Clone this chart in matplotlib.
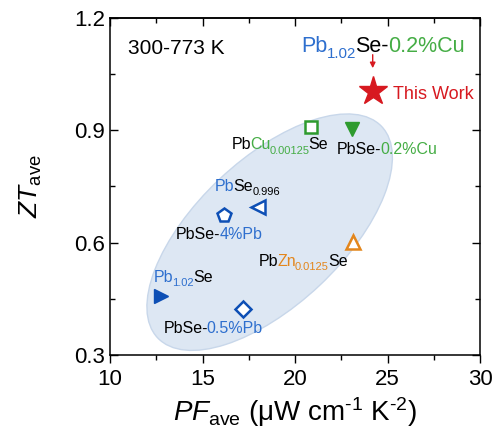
import matplotlib
matplotlib.use('Agg')
import matplotlib.pyplot as plt
import matplotlib.transforms as mtransforms
from matplotlib.patches import Ellipse
from matplotlib.ticker import MultipleLocator

plt.rcParams['font.family'] = ['Liberation Sans', 'DejaVu Sans']
plt.rcParams['mathtext.fontset'] = 'custom'
plt.rcParams['mathtext.rm'] = 'Liberation Sans'
plt.rcParams['mathtext.it'] = 'Liberation Sans:italic'
plt.rcParams['mathtext.bf'] = 'Liberation Sans:bold'

# data: average power factor and average ZT (300-773 K)
names = ['This Work', 'PbCu0.00125Se', 'PbSe-0.2%Cu', 'PbSe-4%Pb',
         'PbSe0.996', 'PbZn0.0125Se', 'Pb1.02Se', 'PbSe-0.5%Pb']
pf_ave = [24.2, 20.85, 23.1, 16.15, 18.0, 23.12, 12.77, 17.2]
zt_ave = [1.005, 0.91, 0.903, 0.675, 0.694, 0.601, 0.458, 0.422]

blue = '#0d4fb5'
tblue = '#2e6fce'
green = '#2e9b2e'
tgreen = '#45ad45'
orange = '#e3861c'
red = '#d71920'

# marker, size, face, edge
styles = [('*', 21, red, red),
          ('s', 8, 'white', green),
          ('v', 10, green, green),
          ('p', 10, 'white', blue),
          ('<', 9.5, 'white', blue),
          ('^', 9.5, 'white', orange),
          ('>', 10, blue, blue),
          ('D', 8, 'white', blue)]

fig = plt.figure(figsize=(4.97, 4.34), dpi=100)
ax = fig.add_axes([110/497, 1-355/434, 370/497, 337/434])
ax.set_xlim(10, 30)
ax.set_ylim(0.3, 1.2)

# shaded region
ell = Ellipse((0, 0), 3.08, 1.46, angle=43.3, facecolor='#dde7f3',
              edgecolor='#c8d7ea', lw=1,
              transform=fig.dpi_scale_trans + mtransforms.ScaledTranslation(18.63, 0.628, ax.transData),
              zorder=1)
ax.add_patch(ell)

for x, y, (m, ms, fc, ec) in zip(pf_ave, zt_ave, styles):
    ax.plot(x, y, marker=m, ms=ms, mfc=fc, mec=ec, mew=1.8 if fc == 'white' else 1, ls='none', zorder=3)

ax.xaxis.set_major_locator(MultipleLocator(5))
ax.xaxis.set_minor_locator(MultipleLocator(2.5))
ax.yaxis.set_major_locator(MultipleLocator(0.3))
ax.yaxis.set_minor_locator(MultipleLocator(0.15))
ax.tick_params(which='both', direction='in', labelsize=16, width=1)
ax.tick_params(axis='x', which='both', direction='out', pad=4)
ax.tick_params(which='major', length=6)
ax.tick_params(which='minor', length=3.5)
ax.xaxis.set_ticks_position('bottom')
ax.yaxis.set_ticks_position('both')
for s in ax.spines.values():
    s.set_linewidth(1.1)

# top ticks inward (bottom ones point out)
sec = ax.secondary_xaxis('top')
sec.xaxis.set_major_locator(MultipleLocator(5))
sec.xaxis.set_minor_locator(MultipleLocator(2.5))
sec.tick_params(which='both', direction='in', labeltop=False, width=1)
sec.tick_params(which='major', length=6)
sec.tick_params(which='minor', length=3.5)
sec.spines['top'].set_linewidth(1.1)

ax.set_xlabel(r'$\mathit{PF}_{\mathregular{ave}}$ (μW cm$^{\text{-1}}$ K$^{\text{-2}}$)', fontsize=20, labelpad=4)
ax.set_ylabel(r'$\mathit{ZT}_{\mathregular{ave}}$', fontsize=19, labelpad=22)

renderer = fig.canvas.get_renderer()


def rich(x, y, parts, size):
    # pieces of text with own colours, placed one after another
    off = 0.0
    for s, c, sub in parts:
        fs = size * 0.7 if sub else size
        dy = -size * 0.28 if sub else 0
        tr = ax.transData + mtransforms.ScaledTranslation(off / 72, dy / 72, fig.dpi_scale_trans)
        t = ax.text(x, y, s, color=c, fontsize=fs, transform=tr, ha='left', va='baseline', zorder=4)
        w = t.get_window_extent(renderer).width - 1
        off += w * 72 / fig.dpi


k = 'black'
rich(16.58, 0.850, [('Pb', k, 0), ('Cu', tgreen, 0), ('0.00125', tgreen, 1), ('Se', k, 0)], 11.5)
rich(22.25, 0.837, [('PbSe-', k, 0), ('0.2%Cu', tgreen, 0)], 11.5)
rich(15.68, 0.739, [('Pb', tblue, 0), ('Se', k, 0), ('0.996', k, 1)], 11.5)
rich(13.55, 0.609, [('PbSe-', k, 0), ('4%Pb', tblue, 0)], 11.5)
rich(18.05, 0.538, [('Pb', k, 0), ('Zn', orange, 0), ('0.0125', orange, 1), ('Se', k, 0)], 11.5)
rich(12.38, 0.496, [('Pb', tblue, 0), ('1.02', tblue, 1), ('Se', k, 0)], 11.5)
rich(12.88, 0.358, [('PbSe-', k, 0), ('0.5%Pb', tblue, 0)], 11.5)
rich(20.36, 1.110, [('Pb', tblue, 0), ('1.02', tblue, 1), ('Se-', k, 0), ('0.2%Cu', tgreen, 0)], 15.5)
rich(10.99, 1.104, [('300-773 K', k, 0)], 15)
rich(25.28, 0.983, [('This Work', red, 0)], 13)

ax.annotate('', xy=(24.2, 1.066), xytext=(24.2, 1.102),
            arrowprops=dict(arrowstyle='-|>', color=red, lw=1, mutation_scale=8, shrinkA=0, shrinkB=0))

fig.savefig('out.png', dpi=100)
